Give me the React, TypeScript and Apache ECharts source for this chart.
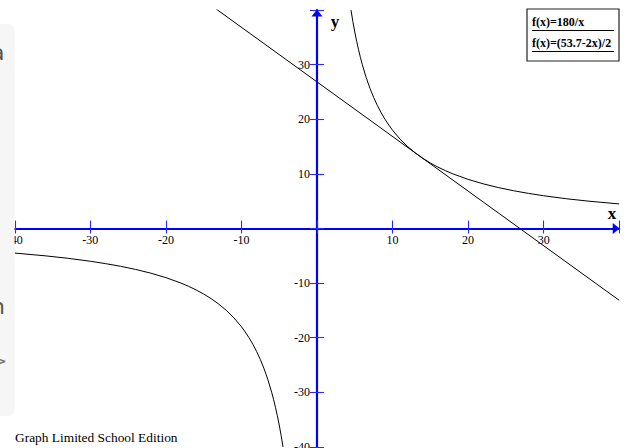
import React, { useEffect, useRef } from "react";
import * as echarts from "echarts";

// f(x)=180/x, positive branch
const hypPosX = [4.5, 4.75, 5, 5.25, 5.5, 5.75, 6, 6.5, 7, 7.5, 8, 8.5, 9, 9.5, 10, 11, 12, 13, 14, 15, 16, 17, 18, 20, 22, 24, 26, 28, 30, 33, 36, 40];
const hypPosY = [40, 37.89, 36, 34.29, 32.73, 31.3, 30, 27.69, 25.71, 24, 22.5, 21.18, 20, 18.95, 18, 16.36, 15, 13.85, 12.86, 12, 11.25, 10.59, 10, 9, 8.18, 7.5, 6.92, 6.43, 6, 5.45, 5, 4.5];
// f(x)=180/x, negative branch
const hypNegX = [-40, -36, -33, -30, -28, -26, -24, -22, -20, -18, -17, -16, -15, -14, -13, -12, -11, -10, -9.5, -9, -8.5, -8, -7.5, -7, -6.5, -6, -5.75, -5.5, -5.25, -5, -4.75, -4.5];
const hypNegY = [-4.5, -5, -5.45, -6, -6.43, -6.92, -7.5, -8.18, -9, -10, -10.59, -11.25, -12, -12.86, -13.85, -15, -16.36, -18, -18.95, -20, -21.18, -22.5, -24, -25.71, -27.69, -30, -31.3, -32.73, -34.29, -36, -37.89, -40];
// f(x)=(53.7-2x)/2, straight line
const lineX = [-40, 40];
const lineY = [66.85, -13.15];

const axisMin = -40;
const axisMax = 40;
const axisStep = 10;
const hiddenLabels = [0, 40];

const legendLabels = ["f(x)=180/x", "f(x)=(53.7-2x)/2"];
const footerText = "Graph Limited School Edition";
const axisNames = ["x", "y"];

const SERIF = "'Liberation Serif', 'Times New Roman', serif";
const BLUE = "#0000ff";
const TICK_BLUE = "#2a2aff";

const W = 628;
const H = 448;
const G = { left: 14.8, right: 8.8, top: 10.1, bottom: 1.1 };

function pairs(xs: number[], ys: number[]) {
  return xs.map((x, i) => [x, ys[i]]);
}

export default function App() {
  const ref = useRef<HTMLDivElement>(null);
  useEffect(() => {
    if (!ref.current) return;
    const chart = echarts.init(ref.current, null, { renderer: "svg" });
    const labelFmt = (v: number) => (hiddenLabels.includes(v) ? "" : String(v));
    const gw = W - G.left - G.right;
    const gh = H - G.top - G.bottom;
    const frac0 = (0 - axisMin) / (axisMax - axisMin);
    const xOffset = -(gh * frac0); // move x axis up to y = 0
    const yOffset = -(gw * frac0); // move y axis right to x = 0
    const baseAxis = {
      type: "value" as const,
      min: axisMin,
      max: axisMax,
      interval: axisStep,
      splitLine: { show: false },
    };
    const tick = (inside: boolean, length: number) => ({
      show: true,
      inside,
      length,
      lineStyle: { color: TICK_BLUE, width: 1.1 },
    });
    const lineStyleMain = {
      onZero: false,
      lineStyle: { color: BLUE, width: 2.2 },
      symbol: ["none", "triangle"],
      symbolSize: [11, 7],
      symbolOffset: [0, -3],
    };
    const labelStyle = {
      color: "#000",
      fontFamily: SERIF,
      fontSize: 12,
    };
    chart.setOption({
      animation: false,
      backgroundColor: "#fff",
      grid: { ...G, containLabel: false, outerBoundsMode: "none" },
      xAxis: [
        {
          ...baseAxis,
          position: "bottom",
          offset: xOffset,
          axisLine: lineStyleMain,
          axisTick: tick(false, 5),
          axisLabel: { ...labelStyle, margin: 5, formatter: labelFmt },
        },
        {
          ...baseAxis,
          position: "bottom",
          offset: xOffset,
          axisLine: { show: false, onZero: false },
          axisTick: tick(true, 8),
          axisLabel: { show: false },
        },
      ],
      yAxis: [
        {
          ...baseAxis,
          position: "left",
          offset: yOffset,
          axisLine: lineStyleMain,
          axisTick: tick(false, 7),
          axisLabel: { ...labelStyle, margin: 7, formatter: labelFmt },
        },
        {
          ...baseAxis,
          position: "left",
          offset: yOffset,
          axisLine: { show: false, onZero: false },
          axisTick: tick(true, 7),
          axisLabel: { show: false },
        },
      ],
      series: [
        {
          type: "line",
          name: legendLabels[0],
          data: pairs(hypPosX, hypPosY),
          showSymbol: false,
          lineStyle: { color: "#000", width: 1 },
          z: 1,
        },
        {
          type: "line",
          name: legendLabels[0] + " ",
          data: pairs(hypNegX, hypNegY),
          showSymbol: false,
          lineStyle: { color: "#000", width: 1 },
          z: 1,
        },
        {
          type: "line",
          name: legendLabels[1],
          data: pairs(lineX, lineY),
          showSymbol: false,
          lineStyle: { color: "#000", width: 1 },
          z: 1,
        },
      ],
      graphic: [
        // faint panel at left edge
        {
          type: "rect",
          shape: { x: -6, y: 24, width: 20.5, height: 392, r: 6 },
          style: { fill: "#f6f6f6" },
          z: 50,
        },
        { type: "text", x: -9, y: 52, z: 51, style: { text: "a", font: "22px 'DejaVu Sans', sans-serif", fill: "#555", verticalAlign: "middle" } },
        { type: "text", x: -9, y: 306, z: 51, style: { text: "n", font: "22px 'DejaVu Sans', sans-serif", fill: "#555", verticalAlign: "middle" } },
        { type: "text", x: -8, y: 360, z: 51, style: { text: ">", font: "18px 'DejaVu Sans', sans-serif", fill: "#777", verticalAlign: "middle" } },
        // axis names
        { type: "text", x: 612, y: 213, z: 20, style: { text: axisNames[0], font: `bold 17px ${SERIF}`, fill: "#000", align: "center", verticalAlign: "middle" } },
        { type: "text", x: 335, y: 21, z: 20, style: { text: axisNames[1], font: `bold 17px ${SERIF}`, fill: "#000", align: "center", verticalAlign: "middle" } },
        // legend box
        {
          type: "rect",
          shape: { x: 527, y: 9, width: 92, height: 52 },
          style: { fill: "#fff", stroke: "#222", lineWidth: 1.2 },
          z: 30,
        },
        { type: "text", x: 532, y: 21.5, z: 31, style: { text: legendLabels[0], font: `bold 12px ${SERIF}`, fill: "#000", verticalAlign: "middle" } },
        { type: "line", shape: { x1: 532, y1: 30.5, x2: 614, y2: 30.5 }, style: { stroke: "#000", lineWidth: 1.2 }, z: 31 },
        { type: "text", x: 532, y: 42.5, z: 31, style: { text: legendLabels[1], font: `bold 12px ${SERIF}`, fill: "#000", verticalAlign: "middle" } },
        { type: "line", shape: { x1: 532, y1: 51.5, x2: 614, y2: 51.5 }, style: { stroke: "#000", lineWidth: 1.2 }, z: 31 },
        // footer
        { type: "text", x: 15, y: 437, z: 40, style: { text: footerText, font: `13.4px ${SERIF}`, fill: "#000", verticalAlign: "middle" } },
      ],
    });
    return () => chart.dispose();
  }, []);
  return (
    <div
      ref={ref}
      style={{ position: "absolute", left: 0, top: 0, width: W, height: H, background: "#fff" }}
    />
  );
}
